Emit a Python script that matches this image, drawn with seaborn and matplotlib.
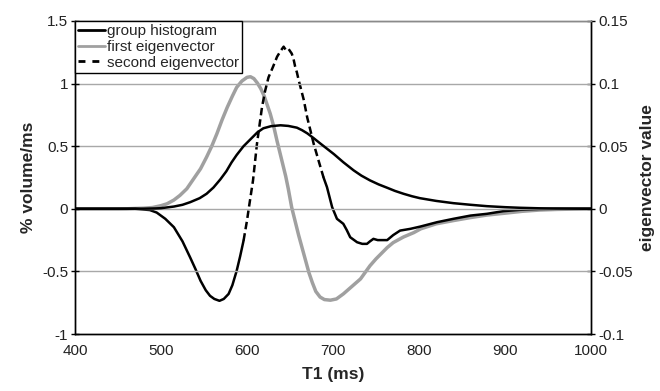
import matplotlib
matplotlib.use("Agg")
import matplotlib.pyplot as plt
from matplotlib.lines import Line2D
from matplotlib.ticker import FuncFormatter
import seaborn as sns
import pandas as pd

# ---- data ----
hist_t = [400, 450, 480, 494, 500, 515, 525, 534, 545, 553, 561, 569, 576, 582, 588, 596,
          604, 612, 619, 628, 639, 648, 658, 664, 670, 677, 685, 693, 701, 712, 724, 733,
          743, 753, 763, 772, 782, 792, 801, 820, 840, 860, 879, 900, 918, 940, 960, 980, 1000]
hist_v = [0, 0, 0.001, 0.003, 0.005, 0.018, 0.032, 0.053, 0.085, 0.12, 0.17, 0.235, 0.30, 0.37,
          0.43, 0.50, 0.555, 0.61, 0.643, 0.66, 0.667, 0.662, 0.648, 0.628, 0.603, 0.567, 0.523,
          0.48, 0.437, 0.372, 0.307, 0.265, 0.227, 0.195, 0.168, 0.143, 0.12, 0.10, 0.085,
          0.063, 0.045, 0.032, 0.021, 0.013, 0.008, 0.004, 0.002, 0.001, 0]

ev1_t = [400, 460, 480, 490, 500, 507, 515, 522, 530, 538, 546, 553, 559, 565, 571, 577, 583,
         588, 594, 600, 604, 608, 612, 616, 620, 623, 627, 631, 635, 640, 645, 648, 652, 656,
         660, 664, 668, 672, 676, 680, 685, 690, 697, 704, 712, 722, 732, 743, 750, 763, 770,
         782, 794, 802, 820, 840, 860, 879, 900, 920, 940, 960, 1000]
ev1_v = [0, 0, 0.0005, 0.001, 0.0025, 0.004, 0.007, 0.0107, 0.016, 0.024, 0.032, 0.0413, 0.05,
         0.06, 0.071, 0.081, 0.09, 0.097, 0.102, 0.105, 0.1055, 0.104, 0.1005, 0.096, 0.09,
         0.084, 0.076, 0.066, 0.054, 0.040, 0.026, 0.016, 0.001, -0.010, -0.021, -0.031,
         -0.041, -0.051, -0.059, -0.066, -0.0705, -0.0725, -0.073, -0.072, -0.068, -0.062,
         -0.056, -0.0455, -0.040, -0.031, -0.027, -0.0225, -0.019, -0.016, -0.012, -0.0094,
         -0.007, -0.005, -0.0035, -0.002, -0.001, -0.0005, 0]

ev2_t = [400, 470, 487, 495, 505, 515, 525, 534, 540, 546, 552, 557, 562, 568, 573, 578.6, 583,
         588, 592, 596, 600, 602, 607, 611.6, 617.4, 621, 625, 630, 635, 639, 642.6, 645, 648,
         650, 652, 654, 656, 658, 660, 663, 666, 670, 673.6, 677.5, 683, 689, 693, 699, 704.6,
         712, 716, 720, 728, 734, 739.5, 743, 747, 752, 757, 763, 770, 778, 790, 801.5, 821,
         840, 860, 879, 898, 918, 940, 960, 1000]
ev2_v = [0, 0, -0.001, -0.003, -0.008, -0.0147, -0.026, -0.039, -0.048, -0.0575, -0.065,
         -0.0695, -0.072, -0.0735, -0.072, -0.068, -0.061, -0.0495, -0.038, -0.0254, -0.0094,
         0, 0.0227, 0.052, 0.081, 0.094, 0.105, 0.113, 0.1215, 0.126, 0.1295, 0.127, 0.128,
         0.126, 0.124, 0.12, 0.1135, 0.109, 0.103, 0.095, 0.087, 0.073, 0.063, 0.052, 0.039,
         0.025, 0.0173, 0.0013, -0.008, -0.012, -0.017, -0.0227, -0.0267, -0.028, -0.028,
         -0.026, -0.024, -0.025, -0.025, -0.025, -0.021, -0.0174, -0.016, -0.0142, -0.0107,
         -0.008, -0.0054, -0.004, -0.0019, -0.0008, -0.0002, 0, 0]

x_ticks = [400, 500, 600, 700, 800, 900, 1000]
left_ticks = [-1, -0.5, 0, 0.5, 1, 1.5]
right_ticks = [-0.1, -0.05, 0, 0.05, 0.1, 0.15]
labels = ["group histogram", "first eigenvector", "second eigenvector"]

# ---- style ----
sns.set_style("white")
plt.rcParams["font.family"] = ["Liberation Sans", "DejaVu Sans"]
plt.rcParams["font.size"] = 11

fig = plt.figure(figsize=(6.6, 3.91), dpi=100)
ax = fig.add_axes([75 / 660, 1 - 334 / 391, (591 - 75) / 660, (334 - 21) / 391])
ax2 = ax.twinx()

hist_df = pd.DataFrame({"T1": hist_t, "v": hist_v})
ev1_df = pd.DataFrame({"T1": ev1_t, "v": ev1_v})
ev2_df = pd.DataFrame({"T1": ev2_t, "v": ev2_v})

ax.set_zorder(1)
ax.patch.set_visible(False)

# grid lines (on left axis)
for y in left_ticks[1:]:
    ax.axhline(y, color="#a8a8a8", lw=1.0, zorder=0)

sns.lineplot(data=ev1_df, x="T1", y="v", ax=ax2, color="#a0a0a0", lw=2.5, zorder=2)
ev2_a = ev2_df[ev2_df["T1"] <= 597.5]
ev2_b = ev2_df[(ev2_df["T1"] >= 596) & (ev2_df["T1"] <= 690)]
ev2_c = ev2_df[ev2_df["T1"] >= 689]
sns.lineplot(data=ev2_a, x="T1", y="v", ax=ax2, color="black", lw=1.8, zorder=3)
sns.lineplot(data=ev2_b, x="T1", y="v", ax=ax2, color="black", lw=1.8, zorder=3,
             dashes=False, linestyle=(0, (3, 1.6)))
sns.lineplot(data=ev2_c, x="T1", y="v", ax=ax2, color="black", lw=1.8, zorder=3)
sns.lineplot(data=hist_df, x="T1", y="v", ax=ax, color="black", lw=1.8, zorder=4)

ax.set_xlim(400, 1000)
ax.set_ylim(-1, 1.5)
ax2.set_ylim(-0.1, 0.15)
ax.set_xticks(x_ticks)
ax.set_yticks(left_ticks)
ax2.set_yticks(right_ticks)
fmt = FuncFormatter(lambda v, p: ("%g" % round(v, 3)))
ax.yaxis.set_major_formatter(fmt)
ax2.yaxis.set_major_formatter(fmt)

for a in (ax, ax2):
    for s in a.spines.values():
        s.set_color("black")
        s.set_linewidth(1.0)
    a.spines["top"].set_color("#8a8a8a")
    a.tick_params(direction="inout", length=6, width=1, colors="black", labelsize=11,
                  pad=2)
ax.tick_params(axis="y", labelcolor="#222222")
ax2.tick_params(axis="y", labelcolor="#222222")
ax.tick_params(axis="x", labelcolor="#222222", pad=4)

ax.set_xlabel("T1 (ms)", fontweight="bold", fontsize=12.5, labelpad=7)
ax.set_ylabel("% volume/ms", fontweight="bold", fontsize=12.5, labelpad=4)
ax2.set_ylabel("eigenvector value", fontweight="bold", fontsize=12.5, labelpad=5)

handles = [Line2D([], [], color="black", lw=2),
           Line2D([], [], color="#a0a0a0", lw=2),
           Line2D([], [], color="black", lw=2, linestyle=(0, (2.5, 2.5)))]
leg = ax.legend(handles, labels, loc="upper left", bbox_to_anchor=(0, 1),
                borderaxespad=0, frameon=True, fancybox=False, fontsize=11,
                handlelength=1.75, handletextpad=0.12, labelspacing=0.12,
                borderpad=0.2)
leg.get_frame().set_edgecolor("black")
leg.get_frame().set_linewidth(1.0)
leg.get_frame().set_alpha(1)
leg.set_zorder(10)

fig.savefig("out.png", dpi=100)
